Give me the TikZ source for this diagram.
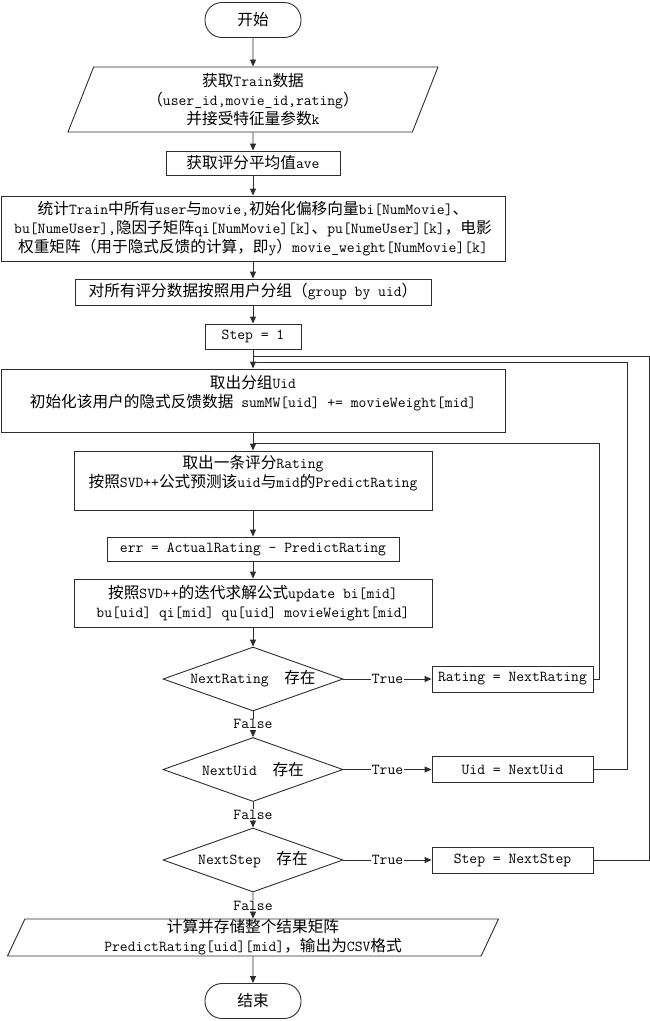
\documentclass[tikz,border=0pt]{standalone}
\usepackage{fontspec}
\usepackage{tikz}
\usetikzlibrary{shapes.geometric, arrows.meta, positioning, calc}
\newfontfamily\cjkfont{Noto Sans CJK SC}[Scale=1.03]
\definecolor{lineblack}{RGB}{45, 45, 45}

% switch to the CJK font for Chinese characters
\XeTeXinterchartokenstate=1
\newXeTeXintercharclass\cjkcls
\newcount\cjkc
\newcommand\cjkrange[2]{\cjkc=#1 \loop\XeTeXcharclass\cjkc=\cjkcls \advance\cjkc by 1 \ifnum\cjkc<#2 \repeat}
\cjkrange{"3000}{"3040}
\cjkrange{"4E00}{"A000}
\cjkrange{"FF00}{"FFF0}
\XeTeXinterchartoks 0 \cjkcls = {\begingroup\cjkfont}
\XeTeXinterchartoks 4095 \cjkcls = {\begingroup\cjkfont}
\XeTeXinterchartoks \cjkcls 0 = {\endgroup}
\XeTeXinterchartoks \cjkcls 4095 = {\endgroup}

\begin{document}
\begin{tikzpicture}[x=1pt, y=-1pt, line width=0.9pt,
    font=\ttfamily\fontsize{15.2}{19}\selectfont,
    box/.style={draw=lineblack, rectangle, inner sep=3pt, align=center},
    term/.style={draw=lineblack, rectangle, rounded corners=17pt, minimum width=96pt, minimum height=35pt},
    io/.style={draw=lineblack, trapezium, trapezium left angle=64, trapezium right angle=116,
        trapezium stretches body, align=center, inner sep=0pt},
    decide/.style={draw=lineblack, diamond, aspect=2.8, inner sep=0pt, minimum width=180pt, minimum height=64pt},
    flow/.style={draw=lineblack, -{Triangle[length=7pt, width=6pt]}},
    tag/.style={fill=white, inner sep=1pt}]
    \useasboundingbox (0,0) rectangle (650,1021);

    % Main chain
    \node[term] (start) at (253,20) {开始};
    \node[io, minimum width=370pt, minimum height=65pt] (read) at (253,99.5)
        {获取Train数据\\（user\_id,movie\_id,rating）\\并接受特征量参数k};
    \node[box, minimum width=174pt, minimum height=24pt] (ave) at (253,163) {获取评分平均值ave};
    \node[box, minimum width=504pt, minimum height=65pt] (stat) at (253,228.5)
        {统计Train中所有user与movie,初始化偏移向量bi[NumMovie]、\\bu[NumeUser],隐因子矩阵qi[NumMovie][k]、pu[NumeUser][k]，电影\\权重矩阵（用于隐式反馈的计算，即y）movie\_weight[NumMovie][k]};
    \node[box, minimum width=356pt, minimum height=26pt] (group) at (253,292) {对所有评分数据按照用户分组（group by uid）};
    \node[box, minimum width=96pt, minimum height=25pt] (init) at (253,336.5) {Step = 1};
    \node[box, minimum width=504pt, minimum height=63pt] (fetch) at (253,400.5)
        {取出分组Uid\\初始化该用户的隐式反馈数据 sumMW[uid] += movieWeight[mid]\\~};
    \node[box, minimum width=358pt, minimum height=59pt] (pick) at (253,480.5)
        {取出一条评分Rating\\按照SVD++公式预测该uid与mid的PredictRating\\~};
    \node[box, minimum width=292pt, minimum height=24pt] (err) at (253,549) {err = ActualRating - PredictRating};
    \node[box, minimum width=358pt, minimum height=48pt] (upd) at (253,603)
        {按照SVD++的迭代求解公式update bi[mid]\\bu[uid] qi[mid] qu[uid] movieWeight[mid]};

    % Decisions
    \node[decide] (hasrate) at (253,679) {NextRating~~存在};
    \node[decide] (hasuid) at (253,769.5) {NextUid~~存在};
    \node[decide] (hasstep) at (253,860) {NextStep~~存在};

    \node[box, minimum width=161pt, minimum height=26pt] (nrate) at (512.5,679) {Rating = NextRating};
    \node[box, minimum width=161pt, minimum height=26pt] (nuid) at (512.5,769.5) {Uid = NextUid};
    \node[box, minimum width=161pt, minimum height=26pt] (nstep) at (512.5,860) {Step = NextStep};

    \node[io, minimum width=491pt, minimum height=37pt] (save) at (253,937.5)
        {计算并存储整个结果矩阵\\PredictRating[uid][mid]，输出为CSV格式};
    \node[term] (stop) at (253,1001) {结束};

    % Loop joints on the main axis
    \coordinate (jstep) at (253,356);
    \coordinate (juid) at (253,362);
    \coordinate (jrate) at (253,443);

    \draw[flow] (start) -- (read);
    \draw[flow] (read) -- (ave);
    \draw[flow] (ave) -- (stat);
    \draw[flow] (stat) -- (group);
    \draw[flow] (group) -- (init);
    \draw[flow] (init) -- (fetch);
    \draw[flow] (fetch) -- (pick);
    \draw[flow] (pick) -- (err);
    \draw[flow] (err) -- (upd);
    \draw[flow] (upd) -- (hasrate);
    \draw[flow] (hasrate) -- node[tag] {False} (hasuid);
    \draw[flow] (hasuid) -- node[tag] {False} (hasstep);
    \draw[flow] (hasstep) -- node[tag] {False} (save);
    \draw[flow] (save) -- (stop);

    \draw[flow] (hasrate) -- node[tag] {True} (nrate);
    \draw[flow] (hasuid) -- node[tag] {True} (nuid);
    \draw[flow] (hasstep) -- node[tag] {True} (nstep);

    % Back to the loops
    \draw[lineblack] (nrate.east) -- ++(6,0) |- (jrate);
    \draw[lineblack] (nuid.east) -- ++(34,0) |- (juid);
    \draw[lineblack] (nstep.east) -- ++(56,0) |- (jstep);
\end{tikzpicture}
\end{document}
